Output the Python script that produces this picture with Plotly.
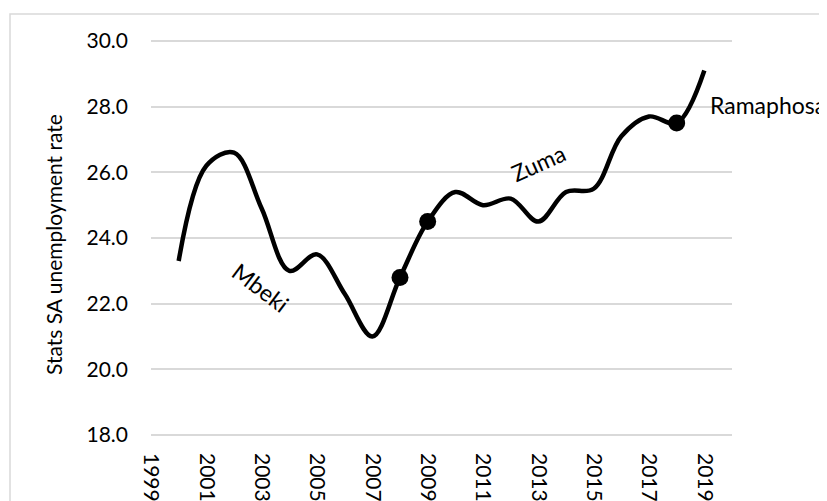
import plotly.graph_objects as go

years = list(range(2000, 2020))
rate = [23.3, 26.2, 26.6, 24.9, 23.0, 23.5, 22.3, 21.0, 22.8, 24.5,
        25.4, 25.0, 25.2, 24.5, 25.4, 25.5, 27.1, 27.7, 27.5, 29.1]
marker_years = [2008, 2009, 2018]
tick_years = list(range(1999, 2020, 2))
y_ticks = [18, 20, 22, 24, 26, 28, 30]
labels = ["Mbeki", "Zuma", "Ramaphosa"]
label_x = [2002.94, 2012.99, 2019.12]
label_y = [22.5, 26.29, 28.05]
label_angle = [37, -24, 0]
y_title = "Stats SA unemployment rate"

FONT = "Lato, 'Open Sans', sans-serif"

marker_vals = [rate[years.index(y)] for y in marker_years]

fig = go.Figure()
fig.add_trace(go.Scatter(
    x=years, y=rate, mode="lines",
    line=dict(color="#000000", width=4.5, shape="spline", smoothing=1.0),
    showlegend=False, hoverinfo="x+y"))
fig.add_trace(go.Scatter(
    x=marker_years, y=marker_vals, mode="markers",
    marker=dict(color="#000000", size=17),
    showlegend=False))

for i, t in enumerate(labels):
    fig.add_annotation(
        x=label_x[i], y=label_y[i], text=t, showarrow=False,
        textangle=label_angle[i],
        xanchor="left" if i == 2 else "center", yanchor="middle",
        font=dict(family=FONT, size=23, color="#000000"))

# page body has an 8px margin, so the figure is 8px smaller than the window
W, H = 819, 493
ml, mr, mt, mb = 143, 95, 31, 64
pw, ph = W - ml - mr, H - mt - mb

fig.add_annotation(
    xref="paper", yref="paper", x=(45 - ml) / pw, y=(H - mb - 237) / ph,
    text=y_title, showarrow=False, textangle=-90,
    xanchor="center", yanchor="middle",
    font=dict(family=FONT, size=21, color="#000000"))

fig.add_shape(type="rect", xref="paper", yref="paper",
              x0=(2 - ml) / pw, x1=1.5, y0=-0.5, y1=(H - mb - 6) / ph,
              line=dict(color="#d9d9d9", width=1.5), fillcolor="rgba(0,0,0,0)",
              layer="below")

fig.update_layout(
    width=W, height=H,
    margin=dict(l=ml, r=mr, t=mt, b=mb, pad=0, autoexpand=False),
    paper_bgcolor="white", plot_bgcolor="white",
    font=dict(family=FONT, size=21, color="#000000"),
    xaxis=dict(range=[1999, 2020], tickvals=tick_years,
               ticktext=[str(y) for y in tick_years], tickangle=90,
               showgrid=False, zeroline=False, showline=False,
               ticks="", ticklabelstandoff=15, automargin=False,
               tickfont=dict(family=FONT, size=21, color="#000000")),
    yaxis=dict(range=[17.94, 30.06], tickvals=y_ticks, tickformat=".1f",
               showgrid=True, gridcolor="#d9d9d9", gridwidth=1.5,
               zeroline=False, showline=False, ticks="", automargin=False,
               ticklabelstandoff=22,
               tickfont=dict(family=FONT, size=21, color="#000000")),
)

fig.write_html("out.html")
